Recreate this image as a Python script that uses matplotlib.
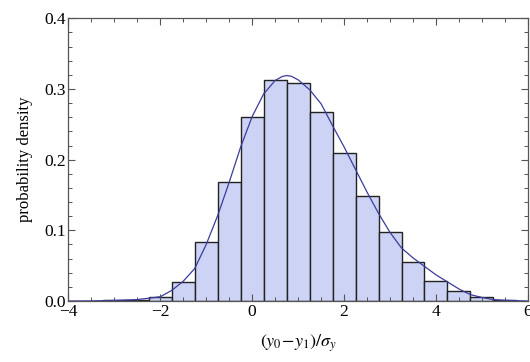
import numpy as np
import matplotlib
matplotlib.use("Agg")
import matplotlib.pyplot as plt
from matplotlib.ticker import MultipleLocator

# Histogram bins (centers, width 0.5) and heights
bin_centers = [-3.0, -2.5, -2.0, -1.5, -1.0, -0.5, 0.0, 0.5, 1.0, 1.5,
               2.0, 2.5, 3.0, 3.5, 4.0, 4.5, 5.0, 5.5]
bin_heights = [0.0008, 0.002, 0.006, 0.027, 0.083, 0.168, 0.261, 0.313, 0.308, 0.267,
               0.209, 0.149, 0.097, 0.055, 0.028, 0.014, 0.005, 0.002]
bin_width = 0.5

# Fitted density curve
curve_x = [-4.0, -3.5, -3.0, -2.5, -2.0, -1.75, -1.5, -1.25, -1.0, -0.75, -0.5, -0.25,
           0.0, 0.25, 0.5, 0.65, 0.75, 0.85, 1.0, 1.25, 1.5, 1.75, 2.0, 2.25, 2.5, 2.75, 3.0,
           3.25, 3.5, 3.75, 4.0, 4.25, 4.5, 4.75, 5.0, 5.25, 5.5, 6.0]
curve_y = [0.0, 0.0002, 0.0008, 0.002, 0.006, 0.015, 0.028, 0.046, 0.080, 0.121, 0.168, 0.218,
           0.261, 0.293, 0.312, 0.3175, 0.319, 0.318, 0.313, 0.299, 0.279, 0.248, 0.218, 0.186,
           0.154, 0.124, 0.097, 0.075, 0.061, 0.049, 0.037, 0.027, 0.017, 0.009, 0.005, 0.002,
           0.001, 0.0]

plt.rcParams["font.family"] = ["Liberation Serif", "DejaVu Serif"]
plt.rcParams["mathtext.fontset"] = "stix"

fig = plt.figure(figsize=(5.3, 3.62), dpi=100)
ax = fig.add_axes([0.129, 0.1685, 0.867, 0.781])

ax.bar(bin_centers, bin_heights, width=bin_width, color="#ccd3f4",
       edgecolor="#222222", linewidth=1.0)
ax.plot(curve_x, curve_y, color="#3b3b9e", linewidth=0.9)

ax.set_xlim(-4, 6)
ax.set_ylim(0, 0.4)
ax.xaxis.set_major_locator(MultipleLocator(2))
ax.xaxis.set_minor_locator(MultipleLocator(0.5))
ax.yaxis.set_major_locator(MultipleLocator(0.1))
ax.yaxis.set_minor_locator(MultipleLocator(0.02))
ax.yaxis.set_major_formatter(plt.FormatStrFormatter("%.1f"))

ax.tick_params(which="both", direction="in", top=True, right=True,
               color="#555555", labelsize=12.5, pad=2)
ax.tick_params(which="major", length=5, width=0.8)
ax.tick_params(which="minor", length=2.8, width=0.7)
for s in ax.spines.values():
    s.set_color("#555555")
    s.set_linewidth(0.9)

ax.set_xlabel(r"$(y_0\!-\!y_1)/\sigma_y$", fontsize=13, labelpad=9)
ax.set_ylabel("probability density", fontsize=12, labelpad=8)

fig.savefig("out.png", dpi=100)
